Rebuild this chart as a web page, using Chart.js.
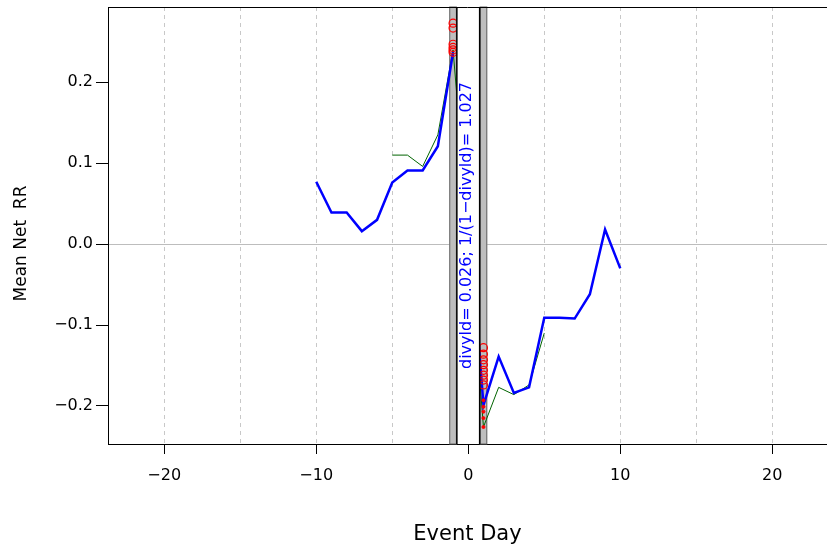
<!DOCTYPE html>
<html>
<head>
<meta charset="utf-8">
<script src="https://cdn.jsdelivr.net/npm/chart.js@4.4.1/dist/chart.umd.min.js"></script>
<style>
  html, body { margin: 0; padding: 0; background: #fff; }
</style>
</head>
<body>
<canvas id="graficoEvento" width="827" height="544"></canvas>
<script>
// blue series, before and after the event
const preDays = [-10, -9, -8, -7, -6, -5, -4, -3, -2, -1];
const preBlue = [0.077, 0.039, 0.039, 0.016, 0.030, 0.076, 0.091, 0.091, 0.121, 0.237];
const postDays = [0, 1, 2, 3, 4, 5, 6, 7, 8, 9, 10];
const postBlue = [0.045, -0.199, -0.139, -0.184, -0.177, -0.091, -0.091, -0.092, -0.062, 0.018, -0.030];

// thin green series
const greenDays = [-5, -4, -3, -2, -1, 0, 1, 2, 3, 4, 5];
const greenVals = [0.110, 0.110, 0.096, 0.135, 0.240, 0.015, -0.226, -0.177, -0.186, -0.174, -0.110];

// red markers around the event
const circleDayA = -1;
const circlesA = [0.273, 0.267, 0.247, 0.243, 0.240, 0.237];
const circleDayB = 1;
const circlesB = [-0.128, -0.136, -0.143, -0.149, -0.156, -0.162, -0.168, -0.174];
const dotsB = [-0.193, -0.201, -0.207, -0.215, -0.226];

// axes
const xGridTicks = [-20, -15, -10, -5, 0, 5, 10, 15, 20];
const yTicks = [-0.2, -0.1, 0.0, 0.1, 0.2];
const xRange = [-23.7, 23.6];
const yRange = [-0.247, 0.293];
const yTitle = 'Mean Net  RR';

// shaded windows and the blank gap between them
const shadeBands = [[-1.25, -0.75], [0.75, 1.25]];
const gapBand = [-0.75, 0.75];
const noteText = 'divyld= 0.026; 1/(1\u2212divyld)= 1.027';

const FONT = "'DejaVu Sans', sans-serif";
const minus = v => v.replace('-', '\u2212');
const pts = (xs, ys) => ys.map((y, i) => ({ x: xs[i], y: y }));
const same = (x, ys) => ys.map(y => ({ x: x, y: y }));

const eventPlugin = {
  id: 'eventPlugin',
  beforeDatasetsDraw(chart) {
    const { ctx, chartArea: a, scales: { x } } = chart;
    ctx.save();
    shadeBands.forEach(b => {
      const x1 = x.getPixelForValue(b[0]), x2 = x.getPixelForValue(b[1]);
      ctx.fillStyle = '#bebebe';
      ctx.fillRect(x1, a.top, x2 - x1, a.bottom - a.top);
      ctx.strokeStyle = '#666';
      ctx.lineWidth = 1;
      ctx.strokeRect(x1 + 0.5, a.top, x2 - x1 - 1, a.bottom - a.top);
    });
    ctx.restore();
  },
  afterDatasetsDraw(chart) {
    const { ctx, chartArea: a, scales: { x } } = chart;
    ctx.save();
    // blank gap between the windows
    const g1 = x.getPixelForValue(gapBand[0]), g2 = x.getPixelForValue(gapBand[1]);
    ctx.fillStyle = '#fff';
    ctx.fillRect(g1, a.top + 1, g2 - g1, a.bottom - a.top - 2);
    ctx.strokeStyle = '#000';
    ctx.lineWidth = 1.5;
    [g1, g2].forEach(px => {
      ctx.beginPath();
      ctx.moveTo(px, a.top);
      ctx.lineTo(px, a.bottom);
      ctx.stroke();
    });
    // top frame line
    ctx.lineWidth = 1;
    ctx.beginPath();
    ctx.moveTo(a.left, a.top + 0.5);
    ctx.lineTo(a.right, a.top + 0.5);
    ctx.stroke();
    // rotated note
    ctx.save();
    ctx.translate(x.getPixelForValue(0) - 1, (a.top + a.bottom) / 2);
    ctx.rotate(-Math.PI / 2);
    ctx.fillStyle = '#0000ff';
    ctx.font = '16px ' + FONT;
    ctx.textAlign = 'center';
    ctx.textBaseline = 'middle';
    ctx.fillText(noteText, 0, 0);
    ctx.restore();
    // y axis title
    ctx.translate(22, (a.top + a.bottom) / 2 + 18);
    ctx.rotate(-Math.PI / 2);
    ctx.fillStyle = '#000';
    ctx.font = '17px ' + FONT;
    ctx.textAlign = 'center';
    ctx.textBaseline = 'middle';
    ctx.fillText(yTitle, 0, 0);
    ctx.restore();
  }
};

const ctx = document.getElementById('graficoEvento').getContext('2d');

new Chart(ctx, {
  type: 'scatter',
  data: {
    datasets: [
      { type: 'line', data: pts(greenDays, greenVals), borderColor: '#006400', borderWidth: 1, pointRadius: 0, order: 3 },
      { type: 'line', data: pts(preDays, preBlue), borderColor: '#0000ff', borderWidth: 2.5, pointRadius: 0, order: 2 },
      { type: 'line', data: pts(postDays, postBlue), borderColor: '#0000ff', borderWidth: 2.5, pointRadius: 0, order: 2 },
      { data: same(circleDayA, circlesA), borderColor: '#ff0000', backgroundColor: 'rgba(0,0,0,0)', borderWidth: 1.2, pointRadius: 4, order: 1 },
      { data: same(circleDayB, circlesB), borderColor: '#ff0000', backgroundColor: 'rgba(0,0,0,0)', borderWidth: 1.2, pointRadius: 4, order: 1 },
      { data: same(circleDayB, dotsB), borderColor: '#ff0000', backgroundColor: '#ff0000', borderWidth: 1, pointRadius: 1.5, order: 1 }
    ]
  },
  options: {
    responsive: false,
    animation: false,
    layout: { autoPadding: false, padding: { top: 7, right: 0, left: 0, bottom: 0 } },
    plugins: { legend: { display: false }, tooltip: { enabled: false } },
    scales: {
      x: {
        type: 'linear',
        min: xRange[0],
        max: xRange[1],
        afterBuildTicks: s => { s.ticks = xGridTicks.map(v => ({ value: v })); },
        afterFit: s => { s.height = 100; s.paddingLeft = 0; s.paddingRight = 0; },
        ticks: {
          color: '#000',
          font: { family: FONT, size: 16 },
          padding: 12,
          maxRotation: 0,
          callback: v => (v % 10 === 0 ? minus(String(v)) : '')
        },
        grid: {
          color: '#c8c8c8',
          lineWidth: 1,
          tickLength: 10,
          tickColor: c => (c.tick && c.tick.value % 10 === 0 ? '#000' : 'rgba(0,0,0,0)')
        },
        border: { display: true, color: '#000', width: 1, dash: [4, 4] },
        title: {
          display: true,
          text: 'Event Day',
          color: '#000',
          font: { family: FONT, size: 21 },
          padding: { top: 0, bottom: -3 }
        }
      },
      y: {
        type: 'linear',
        min: yRange[0],
        max: yRange[1],
        afterBuildTicks: s => { s.ticks = yTicks.map(v => ({ value: v })); },
        afterFit: s => { s.width = 108; s.paddingTop = 0; s.paddingBottom = 0; },
        ticks: {
          color: '#000',
          font: { family: FONT, size: 16 },
          padding: 3,
          callback: v => minus(v.toFixed(1))
        },
        grid: {
          color: c => (c.tick && c.tick.value === 0 ? '#bdbdbd' : 'rgba(0,0,0,0)'),
          lineWidth: 1,
          tickLength: 12,
          tickColor: '#000'
        },
        border: { display: true, color: '#000', width: 1 }
      }
    }
  },
  plugins: [eventPlugin]
});
</script>
</body>
</html>
